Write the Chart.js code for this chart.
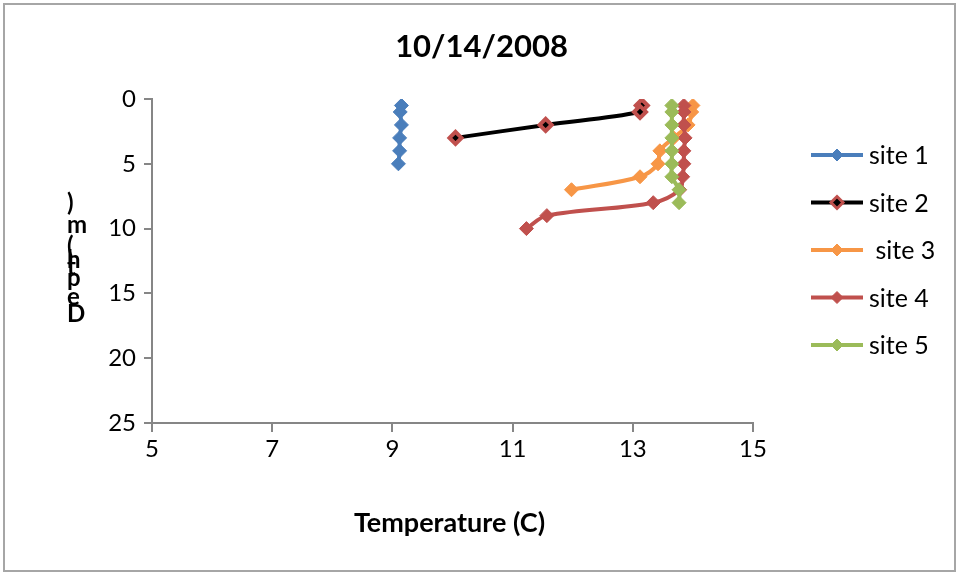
<!DOCTYPE html>
<html>
<head>
<meta charset="utf-8">
<script src="https://cdn.jsdelivr.net/npm/chart.js@4/dist/chart.umd.min.js"></script>
<style>
  html, body { margin: 0; padding: 0; background: #fff; }
  canvas { display: block; }
</style>
</head>
<body>
<canvas id="c" width="959" height="575"></canvas>
<script>
// Text
const chartTitle = '10/14/2008';
const xAxisTitle = 'Temperature (C)';
const yAxisTitle = 'Depth (m)';

// Axis ticks
const xTicks = [5, 7, 9, 11, 13, 15];
const yTicks = [0, 5, 10, 15, 20, 25];

// Series names
const siteNames = ['site 1', 'site 2', ' site 3', 'site 4', 'site 5'];

// Temperature (C) profiles against depth (m)
const site1Depth = [0.5, 1, 2, 3, 4, 5];
const site1Temp  = [9.15, 9.13, 9.15, 9.12, 9.12, 9.1];

const site2Depth = [0.5, 1, 2, 3];
const site2Temp  = [13.15, 13.12, 11.55, 10.05];

const site3Depth = [0.5, 1, 2, 3, 4, 5, 6, 7];
const site3Temp  = [14.0, 13.98, 13.92, 13.68, 13.45, 13.42, 13.12, 11.98];

const site4Depth = [0.5, 1, 2, 3, 4, 5, 6, 7, 8, 9, 10];
const site4Temp  = [13.85, 13.85, 13.85, 13.87, 13.85, 13.85, 13.83, 13.78, 13.34, 11.57, 11.23];

const site5Depth = [0.5, 1, 2, 3, 4, 5, 6, 7, 8];
const site5Temp  = [13.65, 13.65, 13.65, 13.65, 13.65, 13.65, 13.65, 13.77, 13.77];

const FONT = 'Lato, "Open Sans", sans-serif';
const AXIS_GREY = '#868686';

const toPoints = (temps, depths) => temps.map((t, i) => ({ x: t, y: depths[i] }));

const seriesStyle = [
  { line: '#4A7EBB', fill: '#4A7EBB', edge: '#4A7EBB', edgeW: 1, r: 7 },
  { line: '#000000', fill: '#000000', edge: '#C0504D', edgeW: 4, r: 6 },
  { line: '#F79646', fill: '#F79646', edge: '#F79646', edgeW: 1, r: 7 },
  { line: '#C0504D', fill: '#C0504D', edge: '#C0504D', edgeW: 1, r: 7 },
  { line: '#9BBB59', fill: '#9BBB59', edge: '#9BBB59', edgeW: 1, r: 7 }
];

const seriesData = [
  toPoints(site1Temp, site1Depth),
  toPoints(site2Temp, site2Depth),
  toPoints(site3Temp, site3Depth),
  toPoints(site4Temp, site4Depth),
  toPoints(site5Temp, site5Depth)
];

const datasets = seriesData.map((pts, i) => ({
  label: siteNames[i],
  data: pts,
  showLine: true,
  tension: 0.35,
  borderColor: seriesStyle[i].line,
  borderWidth: 4,
  pointStyle: 'rectRot',
  pointRadius: seriesStyle[i].r,
  pointBackgroundColor: seriesStyle[i].fill,
  pointBorderColor: seriesStyle[i].edge,
  pointBorderWidth: seriesStyle[i].edgeW,
  order: siteNames.length - i   // later sites drawn on top
}));

// Title, axis titles, legend and frame
const decorations = {
  id: 'decorations',
  afterDraw(chart) {
    const ctx = chart.ctx;
    const area = chart.chartArea;
    ctx.save();

    // outer frame
    ctx.strokeStyle = '#A6A6A6';
    ctx.lineWidth = 2;
    ctx.strokeRect(4, 4, chart.width - 8, chart.height - 8);

    // title
    ctx.fillStyle = '#000';
    ctx.font = `bold 31px ${FONT}`;
    ctx.textAlign = 'center';
    ctx.textBaseline = 'middle';
    ctx.fillText(chartTitle, chart.width / 2 + 2, 47);

    // x axis title
    ctx.font = `bold 27px ${FONT}`;
    ctx.fillText(xAxisTitle, (area.left + area.right) / 2 - 3, 523);

    // y axis title, glyphs stacked upright from the bottom
    const rise = [0, 17, 36, 47, 54, 0, 68, 89, 111];
    const glyphs = Array.from(yAxisTitle);
    const base = (area.top + area.bottom) / 2 + 61;
    ctx.font = `bold 24px ${FONT}`;
    ctx.textAlign = 'left';
    ctx.textBaseline = 'alphabetic';
    glyphs.forEach((g, i) => {
      if (g === ' ') return;
      ctx.fillText(g, 67, base - rise[i]);
    });

    // legend
    ctx.font = `25px ${FONT}`;
    ctx.textBaseline = 'middle';
    chart.data.datasets.forEach((ds, i) => {
      const y = area.top + 56 + i * 47.5;
      const x0 = 811, x1 = 863, xm = (x0 + x1) / 2;
      ctx.strokeStyle = ds.borderColor;
      ctx.lineWidth = 4;
      ctx.beginPath();
      ctx.moveTo(x0, y);
      ctx.lineTo(x1, y);
      ctx.stroke();
      const r = 6;
      ctx.beginPath();
      ctx.moveTo(xm, y - r);
      ctx.lineTo(xm + r, y);
      ctx.lineTo(xm, y + r);
      ctx.lineTo(xm - r, y);
      ctx.closePath();
      ctx.fillStyle = ds.pointBackgroundColor;
      ctx.fill();
      ctx.strokeStyle = ds.pointBorderColor;
      ctx.lineWidth = ds.pointBorderWidth > 1 ? 3 : 1;
      ctx.stroke();
      ctx.fillStyle = '#000';
      ctx.fillText(ds.label, 869, y + 1);
    });

    ctx.restore();
  }
};

new Chart(document.getElementById('c'), {
  type: 'scatter',
  data: { datasets },
  options: {
    responsive: false,
    animation: false,
    layout: { padding: { top: 99, left: 0, right: 206, bottom: 0 } },
    plugins: { legend: { display: false }, tooltip: { enabled: false }, title: { display: false } },
    scales: {
      x: {
        type: 'linear',
        min: xTicks[0],
        max: xTicks[xTicks.length - 1],
        afterBuildTicks: s => { s.ticks = xTicks.map(v => ({ value: v })); },
        afterFit: s => { s.height = 152; },
        ticks: { font: { family: FONT, size: 24 }, color: '#000', padding: 3, maxRotation: 0 },
        grid: { drawOnChartArea: false, drawTicks: true, tickLength: 9, color: AXIS_GREY, lineWidth: 2 },
        border: { color: AXIS_GREY, width: 2 }
      },
      y: {
        type: 'linear',
        reverse: true,
        min: yTicks[0],
        max: yTicks[yTicks.length - 1],
        afterBuildTicks: s => { s.ticks = yTicks.map(v => ({ value: v })); },
        afterFit: s => { s.width = 152; },
        ticks: { font: { family: FONT, size: 24 }, color: '#000', padding: 8 },
        grid: { drawOnChartArea: false, drawTicks: true, tickLength: 8, color: AXIS_GREY, lineWidth: 2 },
        border: { color: AXIS_GREY, width: 2 }
      }
    }
  },
  plugins: [decorations]
});
</script>
</body>
</html>
